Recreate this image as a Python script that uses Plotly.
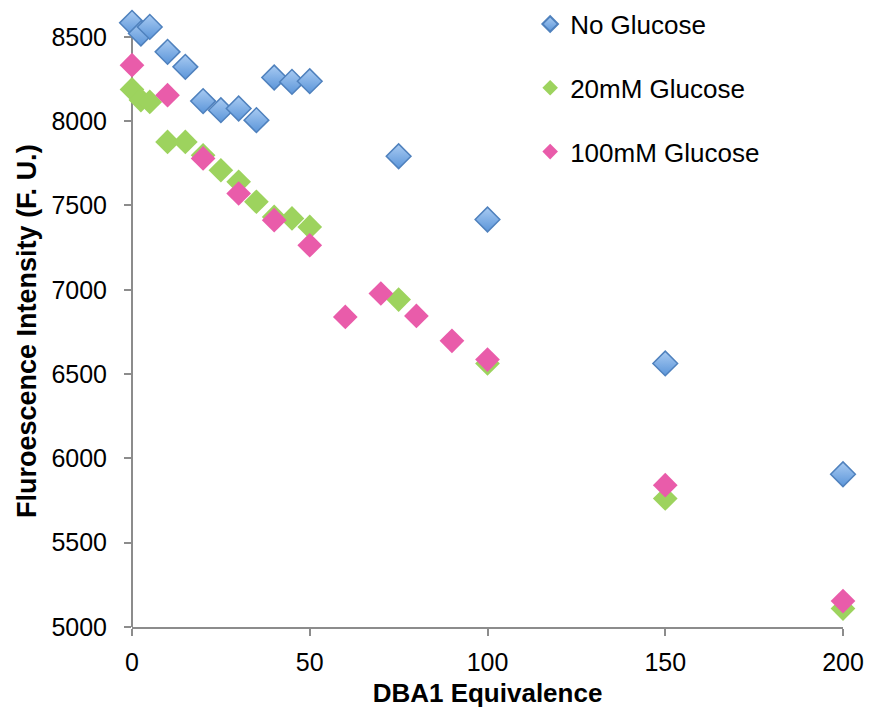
import plotly.graph_objects as go

# DBA1 equivalents and fluorescence readings (F. U.) for each glucose condition
no_glucose_x = [0, 2.5, 5, 10, 15, 20, 25, 30, 35, 40, 45, 50, 75, 100, 150, 200]
no_glucose_y = [8583, 8520, 8559, 8411, 8322, 8119, 8065, 8075, 8006, 8259, 8233, 8237,
                7792, 7417, 6563, 5906]

glucose20_x = [0, 2.5, 5, 10, 15, 20, 25, 30, 35, 40, 45, 50, 75, 100, 150, 200]
glucose20_y = [8188, 8125, 8114, 7877, 7877, 7798, 7709, 7640, 7522, 7432, 7423, 7373,
               6942, 6563, 5762, 5109]

glucose100_x = [0, 10, 20, 30, 40, 50, 60, 70, 80, 90, 100, 150, 200]
glucose100_y = [8332, 8154, 7779, 7571, 7413, 7264, 6839, 6978, 6845, 6697, 6586, 5841, 5154]

x_ticks = [0, 50, 100, 150, 200]
y_ticks = [5000, 5500, 6000, 6500, 7000, 7500, 8000, 8500]

FONT = "Liberation Sans, Arial, sans-serif"
AXIS_GREY = "#8c8c8c"

fig = go.Figure()

fig.add_trace(go.Scatter(
    x=no_glucose_x, y=no_glucose_y, mode="markers", name="No Glucose",
    legendgroup="a", cliponaxis=False,
    marker=dict(symbol="diamond", size=19, color="#a9cbf2",
                gradient=dict(type="vertical", color="#5b95d9"),
                line=dict(color="#4f81bd", width=1.5)),
))
fig.add_trace(go.Scatter(
    x=glucose20_x, y=glucose20_y, mode="markers", name="20mM Glucose",
    legendgroup="b", cliponaxis=False,
    marker=dict(symbol="diamond", size=19, color="#9dd35e", line=dict(width=0)),
))
fig.add_trace(go.Scatter(
    x=glucose100_x, y=glucose100_y, mode="markers", name="100mM Glucose",
    legendgroup="c", cliponaxis=False,
    marker=dict(symbol="diamond", size=19, color="#e95caa", line=dict(width=0)),
))

# vertical axis line only spans the labelled range (5000-8500); the plot area
# reaches a little higher so the highest readings are still drawn
fig.add_shape(type="line", xref="paper", yref="y", x0=0, x1=0,
              y0=y_ticks[0], y1=y_ticks[-1], layer="below",
              line=dict(color=AXIS_GREY, width=2))

fig.add_annotation(
    text="<b>Fluroescence Intensity (F. U.)</b>", textangle=-90,
    xref="paper", yref="paper", x=0, y=0.4877, xanchor="center", yanchor="middle",
    xshift=-105, showarrow=False,
    font=dict(family=FONT, size=27, color="black"),
)

fig.update_layout(
    width=869, height=717,
    margin=dict(l=132, r=26, t=20, b=90, autoexpand=False),
    paper_bgcolor="white", plot_bgcolor="white",
    font=dict(family=FONT, size=25, color="black"),
    showlegend=True,
    legend=dict(
        x=0.56, y=1.032, xanchor="left", yanchor="top",
        font=dict(family=FONT, size=26, color="black"),
        itemsizing="constant", tracegroupgap=27,
        bgcolor="rgba(0,0,0,0)", borderwidth=0,
    ),
    xaxis=dict(
        range=[0, 200], tickvals=x_ticks, ticktext=[str(v) for v in x_ticks],
        showgrid=False, zeroline=False, showline=True, linecolor=AXIS_GREY, linewidth=2,
        ticks="outside", ticklen=7, tickwidth=2, tickcolor=AXIS_GREY,
        ticklabelstandoff=5,
        tickfont=dict(family=FONT, size=25, color="black"),
        title=dict(text="<b>DBA1 Equivalence</b>", standoff=9,
                   font=dict(family=FONT, size=26, color="black")),
    ),
    yaxis=dict(
        range=[5000, 8600], tickvals=y_ticks, ticktext=[str(v) for v in y_ticks],
        showgrid=False, zeroline=False, showline=False,
        ticks="outside", ticklen=7, tickwidth=2, tickcolor=AXIS_GREY,
        ticklabelstandoff=12,
        tickfont=dict(family=FONT, size=25, color="black"),
    ),
)

fig.write_html("out.html")
